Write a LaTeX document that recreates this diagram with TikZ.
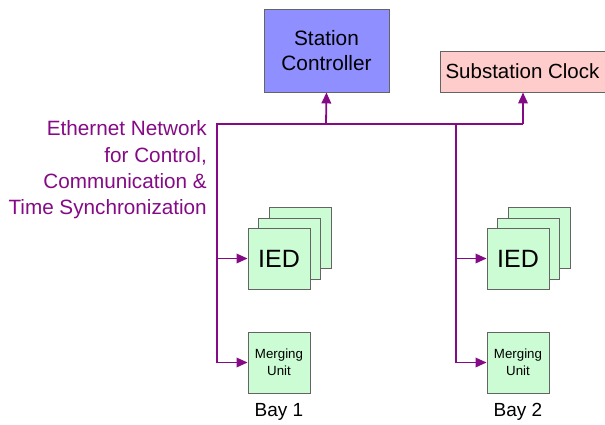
\documentclass[tikz,border=0pt]{standalone}
\usepackage{fontspec}
\setmainfont{Liberation Sans}
\usetikzlibrary{arrows.meta}
\definecolor{netpurple}{RGB}{133,10,133}
\definecolor{ctrlblue}{RGB}{143,143,255}
\definecolor{clockpink}{RGB}{255,204,204}
\definecolor{iedgreen}{RGB}{204,252,212}
\definecolor{boxgray}{RGB}{100,100,100}
\tikzset{
  box/.style={draw=boxgray, line width=0.9pt, inner sep=0pt, align=center, text=black},
  ctrlbox/.style={box, fill=ctrlblue, minimum width=125pt, minimum height=83pt, font=\fontsize{20.8}{25}\selectfont},
  clockbox/.style={box, fill=clockpink, minimum width=170pt, minimum height=41pt, font=\fontsize{20.5}{24}\selectfont},
  iedbox/.style={box, fill=iedgreen, minimum width=62pt, minimum height=61pt},
  net/.style={draw=netpurple, line width=1.8pt},
  netarrow/.style={net, -{Triangle[length=11pt,width=9.5pt]}},
  nettext/.style={text=netpurple, align=right, font=\fontsize{20.7}{26.3}\selectfont, inner sep=0pt},
  baylabel/.style={font=\fontsize{19}{22}\selectfont, inner sep=0pt},
}
\begin{document}
\begin{tikzpicture}[x=1pt,y=-1pt]
\useasboundingbox (0,0) rectangle (605,425);
% top boxes
\node[ctrlbox] (sc) at (326.5,50.5) {Station\\Controller};
\node[clockbox, anchor=west] (clk) at (440,71.5) {\hspace*{-6pt}Substation Clock};
% network coordinates
\coordinate (tl) at (217,124);
\coordinate (tsc) at (326,124);
\coordinate (tb2) at (456,124);
\coordinate (tclk) at (523,124);
% bay 1 stack
\node[iedbox] (ied1c) at (300,238) {};
\node[iedbox] (ied1b) at (289.5,249) {};
\node[iedbox, font=\fontsize{25}{28}\selectfont] (ied1) at (279,258.5) {IED};
\node[iedbox, font=\fontsize{13.3}{17}\selectfont] (mu1) at (279,362.5) {Merging\\Unit};
\node[baylabel] (bay1) at (279,412) {Bay 1};
% bay 2 stack
\node[iedbox] (ied2c) at (539,238) {};
\node[iedbox] (ied2b) at (528.5,249) {};
\node[iedbox, font=\fontsize{25}{28}\selectfont] (ied2) at (518,258.5) {IED};
\node[iedbox, font=\fontsize{13.3}{17}\selectfont] (mu2) at (518,362.5) {Merging\\Unit};
\node[baylabel] (bay2) at (518,412) {Bay 2};
% corner coordinates for bus drops
\coordinate (b1i) at (tl |- ied1.west);
\coordinate (b1m) at (tl |- mu1.west);
\coordinate (b2i) at (tb2 |- ied2.west);
\coordinate (b2m) at (tb2 |- mu2.west);
% network lines
\draw[net] (b1m) -- (tl) -- (tclk);
\draw[net] (tb2) -- (b2m);
\draw[netarrow] (tsc) -- (sc.south);
\draw[netarrow] (tclk) -- (clk.south -| tclk);
\draw[netarrow] (b1i) -- (ied1.west);
\draw[netarrow] (b1m) -- (mu1.west);
\draw[netarrow] (b2i) -- (ied2.west);
\draw[netarrow] (b2m) -- (mu2.west);
% label
\node[nettext, anchor=north east] (lbl) at (207,120.5) {Ethernet Network\\for Control,\\Communication \&\\Time Synchronization};
\end{tikzpicture}
\end{document}
